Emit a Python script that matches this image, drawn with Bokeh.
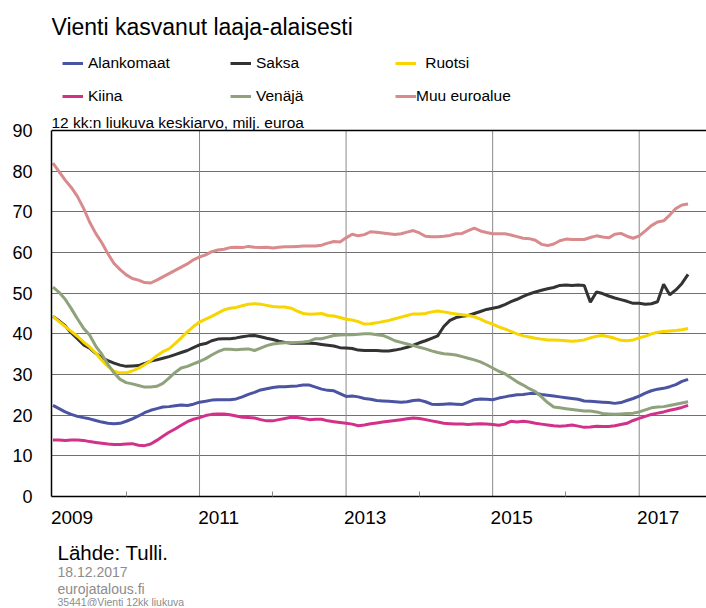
from bokeh.plotting import figure
from bokeh.layouts import column
from bokeh.models import (Range1d, FixedTicker, CustomJSTickFormatter, Label,
                          Legend, Span)
from bokeh.embed import file_html
from bokeh.resources import INLINE
from bokeh.core.properties import value

# ---------------- data (monthly, Jan 2009 .. Sep 2017) ----------------
start_year = 2009
alankomaat = [22.4, 21.6, 20.8, 20.2, 19.7, 19.4, 19.1, 18.7, 18.3, 18.0,
              17.9, 18.0, 18.5, 19.1, 19.8, 20.6, 21.2, 21.6, 22.0, 22.1,
              22.3, 22.5, 22.4, 22.7, 23.2, 23.4, 23.7, 23.8, 23.8, 23.8,
              24.0, 24.5, 25.1, 25.6, 26.2, 26.5, 26.8, 27.0, 27.0, 27.1,
              27.2, 27.4, 27.4, 26.9, 26.4, 26.1, 26.0, 25.3, 24.6, 24.7,
              24.5, 24.1, 23.9, 23.6, 23.5, 23.4, 23.3, 23.2, 23.3, 23.6,
              23.7, 23.3, 22.7, 22.6, 22.7, 22.8, 22.7, 22.6, 23.2, 23.8,
              24.0, 23.9, 23.8, 24.2, 24.5, 24.8, 25.0, 25.1, 25.3, 25.4,
              25.1, 24.9, 24.7, 24.5, 24.3, 24.1, 23.9, 23.5, 23.4, 23.3,
              23.2, 23.1, 22.9, 23.1, 23.6, 24.1, 24.7, 25.4, 26.0, 26.4,
              26.6, 27.0, 27.5, 28.3, 28.8]
saksa = [44.3, 43.2, 42.0, 40.2, 38.8, 37.3, 36.5, 35.2, 34.1, 33.4,
         32.8, 32.3, 32.0, 32.1, 32.2, 32.7, 33.3, 33.6, 34.0, 34.4,
         34.9, 35.4, 35.9, 36.6, 37.3, 37.6, 38.3, 38.7, 38.8, 38.8,
         39.0, 39.3, 39.5, 39.6, 39.3, 38.9, 38.6, 38.2, 37.9, 37.7,
         37.7, 37.7, 37.7, 37.6, 37.4, 37.2, 37.0, 36.6, 36.5, 36.4,
         36.0, 35.9, 35.9, 35.9, 35.8, 35.8, 36.0, 36.3, 36.7, 37.2,
         37.8, 38.3, 38.9, 39.5, 41.8, 43.3, 44.0, 44.3, 44.5, 45.0,
         45.5, 46.0, 46.3, 46.6, 47.2, 47.9, 48.5, 49.2, 49.8, 50.3,
         50.7, 51.1, 51.4, 51.9, 52.0, 51.9, 52.0, 51.9, 47.8, 50.3,
         49.9, 49.3, 48.8, 48.4, 48.0, 47.5, 47.5, 47.3, 47.4, 47.9,
         52.2, 49.6, 50.8, 52.4, 54.6]
ruotsi = [44.3, 43.0, 41.8, 40.6, 39.4, 38.0, 36.8, 35.3, 33.5, 32.0,
          30.8, 30.4, 30.4, 30.9, 31.5, 32.4, 33.4, 34.6, 35.6, 36.3,
          37.6, 39.0, 40.5, 41.8, 42.9, 43.6, 44.3, 45.1, 45.9, 46.3,
          46.5, 46.9, 47.3, 47.4, 47.3, 47.0, 46.7, 46.6, 46.6, 46.3,
          45.6, 45.0, 44.8, 44.9, 45.0, 44.5, 44.4, 44.0, 43.6, 43.4,
          43.0, 42.4, 42.5, 42.7, 43.0, 43.3, 43.7, 44.1, 44.5, 44.9,
          44.9, 45.0, 45.4, 45.6, 45.4, 45.1, 44.9, 44.7, 44.5, 44.2,
          43.6, 42.9, 42.4, 41.7, 41.2, 40.6, 40.0, 39.5, 39.2, 38.9,
          38.7, 38.5, 38.5, 38.4, 38.3, 38.2, 38.3, 38.5, 39.0, 39.4,
          39.6, 39.3, 38.9, 38.4, 38.3, 38.5, 39.0, 39.4, 40.0, 40.4,
          40.6, 40.7, 40.8, 41.0, 41.3]
kiina = [13.9, 13.9, 13.8, 13.9, 13.9, 13.8, 13.5, 13.3, 13.1, 12.9,
         12.8, 12.8, 12.9, 13.0, 12.6, 12.5, 12.9, 13.8, 14.8, 15.8,
         16.6, 17.5, 18.4, 19.0, 19.4, 19.9, 20.2, 20.3, 20.3, 20.1,
         19.8, 19.5, 19.4, 19.3, 18.9, 18.6, 18.6, 18.9, 19.2, 19.5,
         19.4, 19.2, 18.9, 19.0, 19.0, 18.6, 18.4, 18.2, 18.0, 17.8,
         17.4, 17.6, 17.9, 18.1, 18.3, 18.5, 18.7, 18.9, 19.1, 19.3,
         19.2, 18.9, 18.6, 18.3, 18.0, 17.9, 17.8, 17.8, 17.7, 17.8,
         17.9, 17.8, 17.7, 17.5, 17.8, 18.5, 18.3, 18.5, 18.3, 18.0,
         17.8, 17.6, 17.4, 17.3, 17.4, 17.6, 17.3, 17.0, 17.1, 17.3,
         17.2, 17.2, 17.4, 17.7, 18.0, 18.7, 19.2, 19.7, 20.2, 20.5,
         20.8, 21.2, 21.5, 21.9, 22.4]
venaja = [51.5, 50.2, 48.5, 46.2, 43.7, 41.4, 39.7, 37.0, 35.0, 32.5,
          30.4, 28.8, 28.0, 27.7, 27.3, 26.9, 26.9, 27.1, 27.8, 29.1,
          30.5, 31.6, 32.0, 32.6, 33.2, 33.9, 34.8, 35.6, 36.2, 36.2,
          36.1, 36.2, 36.3, 35.9, 36.5, 37.1, 37.5, 37.7, 37.8, 37.8,
          37.9, 38.0, 38.2, 38.8, 38.8, 39.2, 39.6, 39.7, 39.8, 39.8,
          39.9, 40.0, 40.0, 39.8, 39.6, 39.0, 38.3, 37.9, 37.5, 37.1,
          36.7, 36.3, 35.8, 35.4, 35.1, 35.0, 34.8, 34.4, 34.0, 33.6,
          33.1, 32.4, 31.6, 30.8, 30.2, 29.2, 28.2, 27.4, 26.5, 25.8,
          24.5, 23.1, 22.0, 21.8, 21.6, 21.4, 21.2, 21.0, 21.0, 20.8,
          20.4, 20.3, 20.2, 20.3, 20.4, 20.5, 20.8, 21.3, 21.8, 22.0,
          22.1, 22.4, 22.7, 23.0, 23.3]
muu_euroalue = [82.0, 79.9, 77.8, 76.0, 73.8, 70.9, 67.5, 64.7, 62.4, 59.7,
                57.3, 55.8, 54.5, 53.6, 53.2, 52.6, 52.5, 53.2, 54.0, 54.8,
                55.6, 56.4, 57.2, 58.2, 58.9, 59.4, 60.2, 60.6, 60.8, 61.2,
                61.3, 61.2, 61.5, 61.3, 61.2, 61.3, 61.1, 61.3, 61.4, 61.4,
                61.5, 61.6, 61.6, 61.6, 61.8, 62.3, 62.7, 62.6, 63.6, 64.5,
                64.1, 64.4, 65.1, 65.0, 64.8, 64.6, 64.4, 64.6, 65.0, 65.4,
                64.8, 64.0, 63.9, 63.9, 64.0, 64.2, 64.6, 64.7, 65.4, 66.0,
                65.3, 64.9, 64.6, 64.6, 64.6, 64.3, 63.9, 63.5, 63.4, 63.0,
                62.0, 61.7, 62.1, 62.9, 63.3, 63.2, 63.2, 63.2, 63.7, 64.1,
                63.8, 63.6, 64.5, 64.7, 64.0, 63.5, 64.1, 65.3, 66.6, 67.5,
                67.8, 69.2, 70.8, 71.7, 71.9]

series_names = ["Alankomaat", "Saksa", "Ruotsi", "Kiina", "Venäjä", "Muu euroalue"]
series_values = [alankomaat, saksa, ruotsi, kiina, venaja, muu_euroalue]
series_colors = ["#4b53a3", "#333333", "#f7d500", "#d2318a", "#8fa27b", "#d98a8c"]

year_labels = [2009, 2011, 2013, 2015, 2017]
minor_years = [2010, 2012, 2014, 2016]
grid_years = [2011, 2013, 2015, 2017]
y_ticks = [0, 10, 20, 30, 40, 50, 60, 70, 80, 90]

title_text = "Vienti kasvanut laaja-alaisesti"
subtitle_text = "12 kk:n liukuva keskiarvo, milj. euroa"
source_text = "Lähde: Tulli."
footer_lines = ["18.12.2017", "eurojatalous.fi", "35441@Vienti  12kk liukuva"]

x = [start_year + i / 12 for i in range(len(alankomaat))]

# ---------------- layout constants (pixels; canvas starts at 0,0) ----------------
SANS = "Liberation Sans"
W = 706
FL = 51                          # x of the y axis
FRAME_BOTTOM = 496               # y of value 0
PX_PER_UNIT = 366 / 90           # 0..90 spans 366 px
PX_PER_YEAR = 73.28
MAIN_BOTTOM_BORDER = 40
H_MAIN = FRAME_BOTTOM + MAIN_BOTTOM_BORDER
H_FOOT = 70
LABEL_SHIFT = 0.26               # years: year labels start at the grid line

x_start = 2008.98
y_top = FRAME_BOTTOM / PX_PER_UNIT   # frame reaches canvas top

p = figure(width=W, height=H_MAIN, output_backend="svg", toolbar_location=None,
           x_range=Range1d(x_start, x_start + (W - FL) / PX_PER_YEAR),
           y_range=Range1d(0, y_top),
           min_border_left=FL, min_border_right=0,
           min_border_top=0, min_border_bottom=MAIN_BOTTOM_BORDER)
p.outline_line_color = None
p.background_fill_color = "white"
p.border_fill_color = "white"

# axes
p.xaxis.ticker = FixedTicker(ticks=[yr + LABEL_SHIFT for yr in year_labels],
                             minor_ticks=minor_years)
p.xaxis.formatter = CustomJSTickFormatter(code="return Math.floor(tick).toString()")
p.xaxis.major_tick_line_color = None
p.xaxis.major_tick_in = 0
p.xaxis.major_tick_out = 0
p.xaxis.minor_tick_in = 5
p.xaxis.minor_tick_out = 0
p.xaxis.minor_tick_line_color = "#888888"
p.xaxis.axis_line_color = "black"
p.xaxis.axis_line_width = 1.5
p.xaxis.major_label_standoff = 14
p.xaxis.major_label_text_font = SANS
p.xaxis.major_label_text_font_size = "19px"
p.xaxis.major_label_text_color = "black"

p.yaxis.ticker = FixedTicker(ticks=y_ticks)
p.yaxis.bounds = (y_ticks[0], y_ticks[-1])
p.yaxis.major_tick_line_color = None
p.yaxis.major_tick_in = 0
p.yaxis.major_tick_out = 0
p.yaxis.minor_tick_line_color = None
p.yaxis.axis_line_color = "black"
p.yaxis.axis_line_width = 1.5
p.yaxis.major_label_standoff = 19
p.yaxis.major_label_text_font = SANS
p.yaxis.major_label_text_font_size = "18px"
p.yaxis.major_label_text_color = "black"

# grids
p.xgrid.visible = False
p.segment(x0=grid_years, y0=[y_ticks[0]] * len(grid_years),
          x1=grid_years, y1=[y_ticks[-1]] * len(grid_years),
          line_color="#8a8a8a", line_width=1)
p.ygrid.grid_line_color = "#707070"
p.ygrid.grid_line_width = 1
p.add_layout(Span(location=y_ticks[-1], dimension="width",
                  line_color="black", line_width=1.5))

# lines
renderers = []
for vals, col in zip(series_values, series_colors):
    renderers.append(p.line(x, vals, line_width=3, line_color=col))

# legend (two rows, three columns)
leg_cols = [62, 230, 395]
leg_rows = [62.5, 95.5]
order = [(0, 0, 0), (1, 1, 0), (2, 2, 0), (3, 0, 1), (4, 1, 1), (5, 2, 1)]
ITEM_H = 24
for idx, col, row in order:
    name = series_names[idx]
    label = " " + name if name == "Ruotsi" else name
    standoff = 0 if name == "Muu euroalue" else 5
    leg = Legend(items=[(label, [renderers[idx]])],
                 location=(leg_cols[col] - FL,
                           FRAME_BOTTOM - (leg_rows[row] + ITEM_H / 2)),
                 orientation="vertical", border_line_color=None,
                 background_fill_alpha=0, padding=0, margin=0, spacing=0,
                 glyph_width=21, glyph_height=ITEM_H, label_height=ITEM_H,
                 label_standoff=standoff,
                 label_text_font=SANS, label_text_font_size="15.5px",
                 label_text_color="black")
    p.add_layout(leg)


def add_label(text, px, py_mid, size, color="black"):
    p.add_layout(Label(x=px - FL, y=FRAME_BOTTOM - py_mid,
                       x_units="screen", y_units="screen", text=text,
                       text_font=SANS, text_font_size=size,
                       text_color=color, text_align="left",
                       text_baseline="middle"))


add_label(title_text, 51, 26.5, "23px")
add_label(subtitle_text, 51, 121.5, "15.5px")

# ---------------- footer (canvas pixel coordinates) ----------------
f = figure(width=W, height=H_FOOT, output_backend="svg", toolbar_location=None,
           x_range=Range1d(FL, W), y_range=Range1d(0, H_FOOT),
           x_axis_type=None, y_axis_type=None,
           min_border_left=FL, min_border_right=0,
           min_border_top=0, min_border_bottom=0)
f.outline_line_color = None
f.grid.visible = False
f.background_fill_color = "white"
f.border_fill_color = "white"


def add_foot(text, px, py_mid, size, color):
    f.text(x=[px], y=[H_MAIN + H_FOOT - py_mid], text=[text],
           text_font=value(SANS), text_font_size=value(size), text_color=color,
           text_align="left", text_baseline="middle")


add_foot(source_text, 57, 552, "20.5px", "black")
add_foot(footer_lines[0], 57, 571.5, "14px", "#8c8c8c")
add_foot(footer_lines[1], 57, 588, "14px", "#8c8c8c")
add_foot(footer_lines[2], 57, 601, "10.5px", "#8c8c8c")

layout = column(p, f, spacing=0)
open("out.html", "w").write(file_html(layout, INLINE))
